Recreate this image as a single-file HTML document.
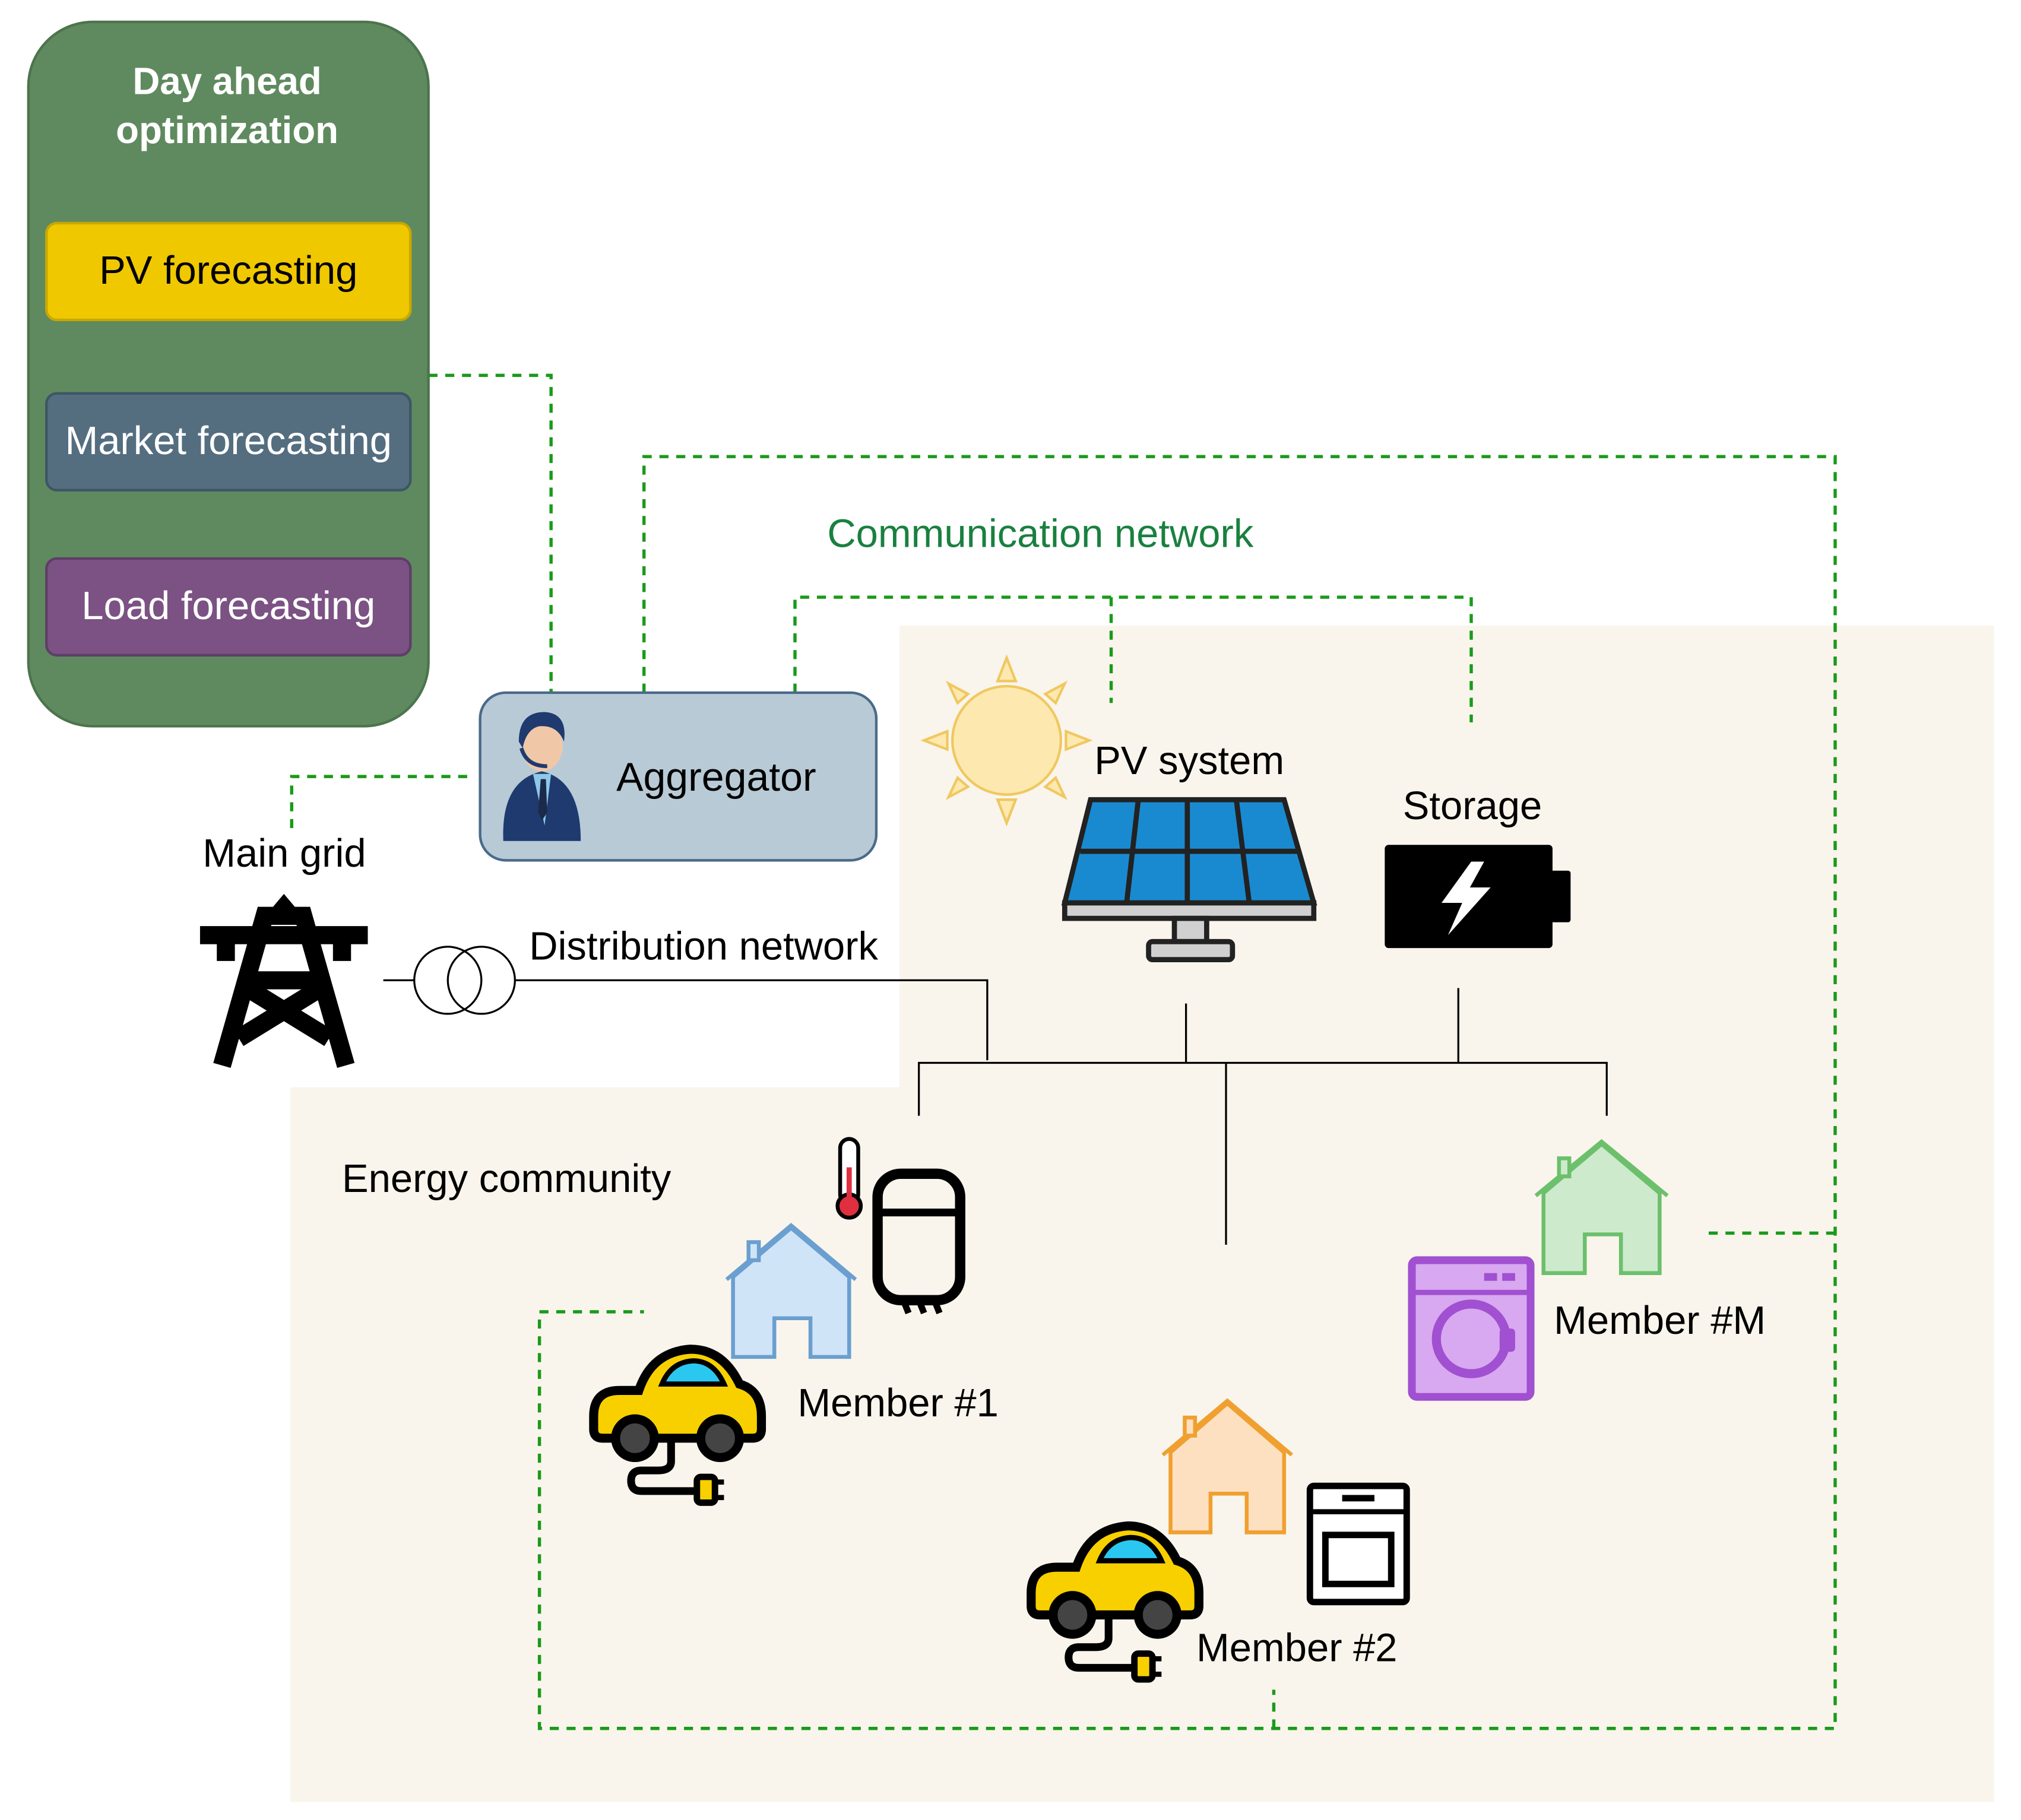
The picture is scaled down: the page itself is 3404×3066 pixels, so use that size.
<!DOCTYPE html>
<html><head><meta charset="utf-8">
<style>
html,body{margin:0;padding:0;background:#fff;}
svg{display:block;}
text{font-family:"Liberation Sans",Arial,sans-serif;}
</style></head>
<body>
<svg width="3404" height="3066" viewBox="0 0 1566 1411" preserveAspectRatio="none" xmlns="http://www.w3.org/2000/svg">
<rect width="1600" height="1420" fill="#fff"/>
<polygon points="697,485 1545,485 1545,1397 225,1397 225,843 697,843" fill="#f9f5ec"/>

<rect x="22" y="17" width="310" height="546" rx="50" fill="#5f8a5f" stroke="#4d744d" stroke-width="2"/>
<text x="176" y="73" font-size="29.3" font-weight="bold" fill="#fff" text-anchor="middle">Day ahead</text>
<text x="176" y="111" font-size="29.3" font-weight="bold" fill="#fff" text-anchor="middle">optimization</text>
<rect x="36" y="173" width="282" height="75" rx="8" fill="#f0c800" stroke="#c8a800" stroke-width="2"/>
<text x="177" y="220" font-size="30.8" fill="#000" text-anchor="middle">PV forecasting</text>
<rect x="36" y="305" width="282" height="75" rx="8" fill="#546e80" stroke="#3e5566" stroke-width="2"/>
<text x="177" y="352" font-size="30.8" fill="#fff" text-anchor="middle">Market forecasting</text>
<rect x="36" y="433" width="282" height="75" rx="8" fill="#7b5283" stroke="#5e3e66" stroke-width="2"/>
<text x="177" y="480" font-size="30.8" fill="#fff" text-anchor="middle">Load forecasting</text>

<g fill="none" stroke="#1a9a1a" stroke-width="2.5" stroke-dasharray="7,6">
<polyline points="332,291 427,291 427,537"/>
<polyline points="499,537 499,354 1422,354 1422,1340 418,1340 418,1017 499,1017"/>
<polyline points="987,1340 987,1310"/>
<polyline points="1422,956 1320,956"/>
<polyline points="616,537 616,463 1140,463 1140,560"/>
<polyline points="861,463 861,545"/>
<polyline points="362,602 226,602 226,642"/>
</g>
<text x="641" y="424" font-size="30.8" fill="#1a8040">Communication network</text>

<rect x="372" y="537" width="307" height="130" rx="20" fill="#b8cad6" stroke="#4a6a8a" stroke-width="2"/>
<text x="555" y="613" font-size="31.3" fill="#000" text-anchor="middle">Aggregator</text>
<g>
<path d="M390,652 Q388,605 420,598 Q450,605 450,652 Z" fill="#1f3a6e"/>
<path d="M413,600 L427,600 L422,640 Z" fill="#8fc8e8"/>
<path d="M419,604 L423,604 L424,630 L420,636 L417,630 Z" fill="#1c2a4a"/>
<ellipse cx="420" cy="578" rx="16" ry="20" fill="#f0c8a8"/>
<path d="M402,575 Q402,552 422,552 Q440,553 437,575 Q432,562 418,563 Q408,565 405,580 Z" fill="#1f3a6e"/>
<path d="M404,580 Q408,594 424,594" stroke="#1f3a6e" stroke-width="3" fill="none"/>
</g>

<text x="157" y="672" font-size="30.8" fill="#000">Main grid</text>
<g fill="none" stroke="#000" stroke-width="14" stroke-linejoin="miter">
<path d="M172,826 L205,710 L235,710 L268,826"/>
<line x1="155" y1="725" x2="285" y2="725"/>
<line x1="175" y1="725" x2="175" y2="745" />
<line x1="265" y1="725" x2="265" y2="745" />
<line x1="190" y1="760" x2="250" y2="760"/>
<path d="M190,765 L255,805 M250,765 L185,805"/>
</g>
<path d="M204,712 L220,693 L236,712 Z" fill="#000"/>
<line x1="297" y1="760" x2="321" y2="760" stroke="#000" stroke-width="1.5"/>
<circle cx="347" cy="760" r="26" fill="none" stroke="#000" stroke-width="1.5"/>
<circle cx="373" cy="760" r="26" fill="none" stroke="#000" stroke-width="1.5"/>
<polyline points="399,760 765,760 765,822" fill="none" stroke="#000" stroke-width="1.5"/>
<text x="410" y="744" font-size="30.8" fill="#000">Distribution network</text>

<g stroke="#000" stroke-width="1.5" fill="none">
<polyline points="712,865 712,824 1245,824 1245,865"/>
<line x1="919" y1="778" x2="919" y2="824"/>
<line x1="1130" y1="766" x2="1130" y2="824"/>
<line x1="950" y1="824" x2="950" y2="965"/>
</g>
<text x="265" y="924" font-size="30.8" fill="#000">Energy community</text>

<g fill="#fde9b0" stroke="#f0c860" stroke-width="2">
<circle cx="780" cy="574" r="42"/>
<polygon points="773,528 780,510 787,528"/>
<polygon points="773,620 780,638 787,620"/>
<polygon points="734,567 716,574 734,581"/>
<polygon points="826,567 844,574 826,581"/>
<polygon points="742,545 735,530 750,538"/>
<polygon points="818,545 825,530 810,538"/>
<polygon points="742,603 735,618 750,610"/>
<polygon points="818,603 825,618 810,610"/>
</g>
<text x="848" y="600" font-size="30.8" fill="#000">PV system</text>
<g stroke="#222" stroke-width="4">
<polygon points="845,620 995,620 1018,700 825,700" fill="#1a8ad0"/>
<line x1="837" y1="660" x2="1006" y2="660"/>
<line x1="882" y1="620" x2="873" y2="700"/>
<line x1="920" y1="620" x2="920" y2="700"/>
<line x1="958" y1="620" x2="968" y2="700"/>
<rect x="825" y="700" width="193" height="12" fill="#d0d0d0"/>
<rect x="910" y="712" width="25" height="18" fill="#d0d0d0"/>
<rect x="890" y="730" width="65" height="14" rx="3" fill="#d0d0d0"/>
</g>
<text x="1087" y="635" font-size="30.8" fill="#000">Storage</text>
<rect x="1073" y="655" width="130" height="80" rx="3" fill="#000"/>
<rect x="1200" y="675" width="17" height="40" rx="2" fill="#000"/>
<polygon points="1140,668 1117,700 1133,700 1122,725 1155,688 1139,688 1150,668" fill="#fff"/>

<g fill="#d0e4f8" stroke="#6a9fd0" stroke-width="3">
<polygon points="568,990 613,952 658,990 658,1052 628,1052 628,1022 600,1022 600,1052 568,1052"/>
<polyline points="563,992 613,950 663,992" fill="none"/>
<rect x="580" y="963" width="8" height="14"/>
</g>
<rect x="680" y="910" width="64" height="98" rx="18" fill="none" stroke="#000" stroke-width="8"/>
<line x1="680" y1="940" x2="744" y2="940" stroke="#000" stroke-width="6"/>
<path d="M700,1008 L704,1018 M712,1008 L716,1018 M724,1008 L728,1018" stroke="#000" stroke-width="5"/>
<rect x="651" y="883" width="14" height="50" rx="7" fill="#fff" stroke="#000" stroke-width="3"/>
<circle cx="658" cy="935" r="9" fill="#e03040" stroke="#000" stroke-width="3"/>
<line x1="658" y1="905" x2="658" y2="930" stroke="#e03040" stroke-width="4"/>

<defs>
<g id="car">
<path d="M5,55 Q5,35 25,35 L40,35 Q50,5 80,3 Q105,3 118,30 Q135,35 135,55 L135,65 Q135,72 128,72 L12,72 Q5,72 5,65 Z" fill="#f8d000" stroke="#000" stroke-width="7"/>
<path d="M58,30 Q65,13 82,12 Q98,12 106,30 Z" fill="#2ac8f0" stroke="#000" stroke-width="4"/>
<circle cx="37" cy="72" r="15" fill="#444" stroke="#000" stroke-width="7"/>
<circle cx="103" cy="72" r="15" fill="#444" stroke="#000" stroke-width="7"/>
<path d="M65,72 L65,90 Q65,97 55,97 L42,97 Q34,97 34,105 Q34,113 42,113 L85,113" fill="none" stroke="#000" stroke-width="6"/>
<rect x="85" y="102" width="14" height="20" rx="3" fill="#f8d000" stroke="#000" stroke-width="5"/>
<line x1="99" y1="106" x2="106" y2="106" stroke="#000" stroke-width="4"/>
<line x1="99" y1="118" x2="106" y2="118" stroke="#000" stroke-width="4"/>
</g>
</defs>
<use href="#car" x="455" y="1043"/>
<use href="#car" x="794" y="1180"/>
<text x="618" y="1098" font-size="30.8" fill="#000">Member #1</text>

<g fill="#cdeacd" stroke="#6cc06c" stroke-width="3">
<polygon points="1196,925 1241,887 1286,925 1286,987 1256,987 1256,957 1228,957 1228,987 1196,987"/>
<polyline points="1190,927 1241,885 1292,927" fill="none"/>
<rect x="1208" y="898" width="8" height="14"/>
</g>
<rect x="1094" y="977" width="92" height="106" rx="4" fill="#d8a8f0" stroke="#a050d0" stroke-width="6"/>
<line x1="1094" y1="1002" x2="1186" y2="1002" stroke="#a050d0" stroke-width="4"/>
<rect x="1150" y="987" width="10" height="6" fill="#a050d0"/>
<rect x="1164" y="987" width="10" height="6" fill="#a050d0"/>
<circle cx="1140" cy="1038" r="27" fill="none" stroke="#a050d0" stroke-width="7"/>
<rect x="1162" y="1030" width="12" height="18" rx="3" fill="#a050d0"/>
<text x="1204" y="1034" font-size="30.8" fill="#000">Member #M</text>

<g fill="#fde0c0" stroke="#f0a030" stroke-width="3">
<polygon points="907,1126 951,1088 995,1126 995,1188 966,1188 966,1158 938,1158 938,1188 907,1188"/>
<polyline points="901,1128 951,1086 1001,1128" fill="none"/>
<rect x="918" y="1099" width="8" height="14"/>
</g>
<rect x="1015" y="1152" width="75" height="90" rx="3" fill="#fff" stroke="#000" stroke-width="5"/>
<line x1="1015" y1="1172" x2="1090" y2="1172" stroke="#000" stroke-width="4"/>
<rect x="1027" y="1190" width="51" height="38" fill="none" stroke="#000" stroke-width="5"/>
<rect x="1040" y="1159" width="25" height="5" fill="#000"/>
<text x="927" y="1288" font-size="30.8" fill="#000">Member #2</text>
</svg>
</body></html>
